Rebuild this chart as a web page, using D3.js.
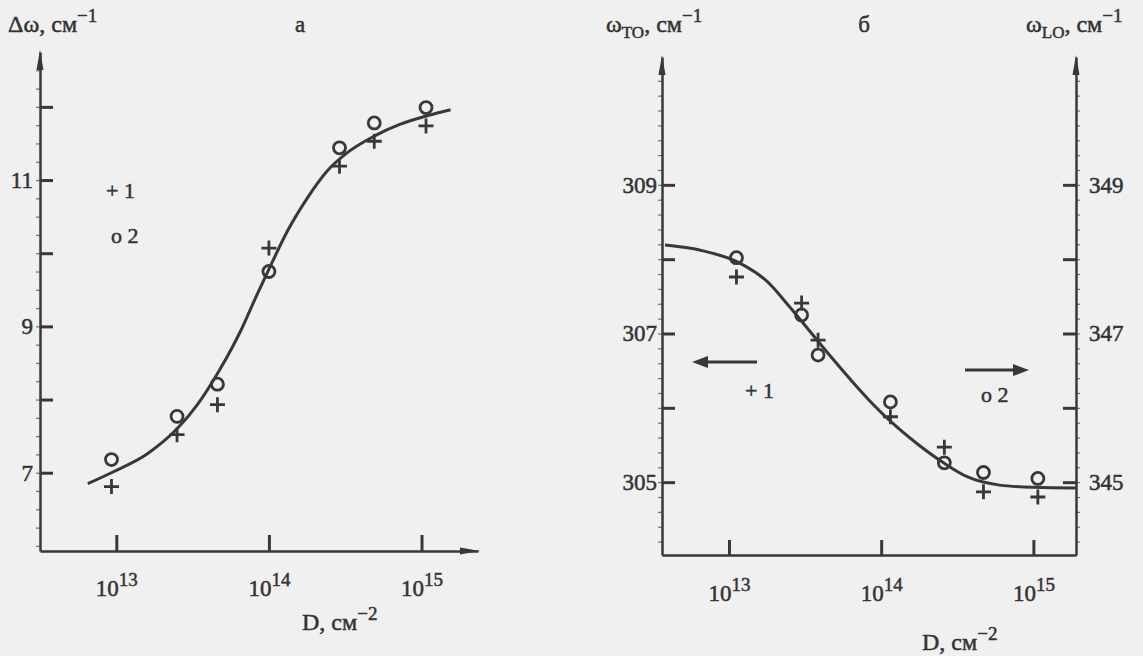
<!DOCTYPE html>
<html>
<head>
<meta charset="utf-8">
<script src="https://cdnjs.cloudflare.com/ajax/libs/d3/7.8.5/d3.min.js"></script>
<style>
body { margin: 0; background: #f0f0f0; }
svg { display: block; }
</style>
</head>
<body>
<svg id="fig" width="1143" height="656" font-family="'Liberation Serif', 'DejaVu Serif', serif"></svg>
<script>
// ---- panel а : shift vs dose ----
const doseA = [9.3e12, 2.5e13, 4.6e13, 1.0e14, 2.9e14, 4.9e14, 1.07e15]
const shiftA1 = [6.81, 7.52, 7.93, 10.07, 11.19, 11.53, 11.74]   // +  1
const shiftA2 = [7.18, 7.77, 8.21, 9.75, 11.44, 11.78, 11.99]    // o  2
const fitDoseA = [6.5e12, 9.5e12, 1.6e13, 2.5e13, 3.4e13, 4.8e13, 6.5e13, 8.3e13, 1.02e14, 1.32e14, 1.78e14, 2.4e14, 3.2e14, 4.9e14, 7.2e14, 1.1e15, 1.55e15]
const fitShiftA = [6.85, 7.01, 7.26, 7.60, 7.93, 8.42, 8.93, 9.42, 9.82, 10.30, 10.75, 11.12, 11.36, 11.60, 11.76, 11.88, 11.96]
const ticksA = [7, 8, 9, 10, 11, 12]
const labelsA = [7, 9, 11]

// ---- panel б : TO (left axis) and LO (right axis) ----
const doseB = [1.12e13, 3.0e13, 3.85e13, 1.15e14, 2.6e14, 4.7e14, 1.07e15]
const wTO = [307.76, 307.41, 306.91, 305.88, 305.47, 304.87, 304.80]   // + 1
const wLO = [348.02, 347.25, 346.71, 346.08, 345.26, 345.13, 345.05]   // o 2
const fitDoseB = [3.8e12, 6.5e12, 1.17e13, 1.78e13, 2.5e13, 3.4e13, 4.8e13, 8.1e13, 1.15e14, 1.74e14, 2.57e14, 3.7e14, 6.0e14, 1.0e15, 1.9e15]
const fitTO = [308.19, 308.12, 307.95, 307.70, 307.36, 307.03, 306.66, 306.13, 305.82, 305.51, 305.26, 305.07, 304.96, 304.93, 304.92]
const ticksTO = [305, 306, 307, 308, 309]
const labelsTO = [305, 307, 309]
const ticksLO = [345, 346, 347, 348, 349]
const labelsLO = [345, 347, 349]
const doseTicks = [1e13, 1e14, 1e15]

const ink = "#383838"
const serif = "'Liberation Serif', 'DejaVu Serif', serif"
const svg = d3.select("#fig")

function styleAxis(g, w) {
  g.attr("font-size", null).attr("font-family", null)
  g.select(".domain").attr("stroke", ink).attr("stroke-width", w || 2.5)
  g.selectAll(".tick line").attr("stroke", ink).attr("stroke-width", 3)
  g.selectAll(".tick text").attr("fill", "#333").attr("font-size", 23)
    .attr("font-family", serif).attr("stroke", "#333").attr("stroke-width", 0.5)
}

function powerLabels(g, y) {
  g.selectAll(".tick text").attr("y", y).attr("dy", null).each(function(d) {
    let t = d3.select(this)
    t.append("tspan").text("10")
    t.append("tspan").attr("dy", -10).attr("font-size", 19).text(Math.round(Math.log10(d)))
  })
}

function minor(g, scale, lo, hi, step, side) {
  let vals = d3.range(lo, hi + 1e-9, step)
  let ax = side == "left" ? d3.axisLeft(scale) : d3.axisRight(scale)
  g.call(ax.tickValues(vals).tickSize(4).tickFormat(""))
  g.select(".domain").remove()
  g.selectAll(".tick line").attr("stroke", ink).attr("stroke-width", 1.2).attr("opacity", 0.7)
}

function arrowUp(x, y) {
  svg.append("path").attr("d", `M${x - 3.5},${y + 18}L${x},${y - 2}L${x + 3.5},${y + 18}Z`).attr("fill", ink)
}

function markers(g, xs, ys, x, y, kind) {
  if (kind == "plus") {
    g.selectAll(null).data(xs).enter().append("path")
      .attr("transform", (d, i) => "translate(" + x(d) + "," + y(ys[i]) + ")")
      .attr("d", "M-7.5,0H7.5M0,-7.5V7.5")
      .attr("stroke", ink).attr("stroke-width", 2.8).attr("fill", "none")
  } else {
    g.selectAll(null).data(xs).enter().append("circle")
      .attr("cx", d => x(d))
      .attr("cy", (d, i) => y(ys[i]))
      .attr("r", 6)
      .attr("stroke", ink).attr("stroke-width", 2.8).attr("fill", "none")
  }
}

function label(x, y, size, str) {
  return svg.append("text").attr("x", x).attr("y", y).attr("font-size", size)
    .attr("font-family", serif).attr("fill", "#333").attr("stroke", "#333").attr("stroke-width", 0.5)
    .text(str)
}

function supText(x, y, parts) {
  let t = label(x, y, 24, null)
  parts.forEach(p => {
    let s = t.append("tspan").text(p[0])
    if (p[1]) s.attr("dy", p[1])
    if (p[2]) s.attr("font-size", p[2])
  })
  return t
}

// ================= panel а =================
let xA = d3.scaleLog().domain([Math.pow(10, 12.5), Math.pow(10, 15.37)]).range([40, 478])
let yA = d3.scaleLinear().domain([5.93, 12.75]).range([551, 52])

let gA = svg.append("g")
gA.append("g").attr("transform", "translate(40,0)").call(g => minor(g, yA, 6, 12.5, 0.25, "left"))
gA.append("g").attr("transform", "translate(40,0)")
  .call(d3.axisLeft(yA).tickValues(ticksA).tickSizeInner(-13).tickSizeOuter(0).tickPadding(7)
    .tickFormat(d => labelsA.includes(d) ? d : ""))
  .call(g => styleAxis(g))
gA.append("g").attr("transform", "translate(0,551)")
  .call(d3.axisBottom(xA).tickValues(doseTicks).tickSizeInner(-16).tickSizeOuter(0).tickFormat(""))
  .call(g => styleAxis(g))
  .call(g => powerLabels(g, 45))
arrowUp(40, 52)
svg.append("path").attr("d", "M460,547.5L480,551L460,554.5Z").attr("fill", ink)

gA.append("path").datum(fitDoseA)
  .attr("d", d3.line().x(d => xA(d)).y((d, i) => yA(fitShiftA[i])).curve(d3.curveMonotoneX))
  .attr("fill", "none").attr("stroke", ink).attr("stroke-width", 3)
markers(gA, doseA, shiftA2, xA, yA, "circle")
markers(gA, doseA, shiftA1, xA, yA, "plus")

supText(8, 32, [["Δω, см"], ["−1", -10, 19]])
label(300, 32, 23, "а").attr("text-anchor", "middle")
label(106, 198, 22, "+ 1")
label(111, 243, 22, "о 2")
supText(302, 630, [["D, см"], ["−2", -10, 19]])

// ================= panel б =================
let xB = d3.scaleLog().domain([Math.pow(10, 12.56), Math.pow(10, 15.28)]).range([662, 1076])
let yTO = d3.scaleLinear().domain([304.02, 310.72]).range([555, 57])
let yLO = d3.scaleLinear().domain([344.02, 350.72]).range([555, 57])

let gB = svg.append("g")
gB.append("g").attr("transform", "translate(662,0)").call(g => minor(g, yTO, 304.2, 310.4, 0.2, "left"))
gB.append("g").attr("transform", "translate(1076,0)").call(g => minor(g, yLO, 344.2, 350.4, 0.2, "right"))
gB.append("g").attr("transform", "translate(662,0)")
  .call(d3.axisLeft(yTO).tickValues(ticksTO).tickSizeInner(-13).tickSizeOuter(0).tickPadding(5)
    .tickFormat(d => labelsTO.includes(d) ? d : ""))
  .call(g => styleAxis(g))
gB.append("g").attr("transform", "translate(1076,0)")
  .call(d3.axisRight(yLO).tickValues(ticksLO).tickSizeInner(-13).tickSizeOuter(0).tickPadding(13)
    .tickFormat(d => labelsLO.includes(d) ? d : ""))
  .call(g => styleAxis(g))
gB.append("g").attr("transform", "translate(0,555)")
  .call(d3.axisBottom(xB).tickValues(doseTicks).tickSizeInner(-15).tickSizeOuter(0).tickFormat(""))
  .call(g => styleAxis(g))
  .call(g => powerLabels(g, 46))
arrowUp(662, 57)
arrowUp(1076, 57)

gB.append("path").datum(fitDoseB)
  .attr("d", d3.line().x(d => xB(d)).y((d, i) => yTO(fitTO[i])).curve(d3.curveMonotoneX))
  .attr("fill", "none").attr("stroke", ink).attr("stroke-width", 3)
markers(gB, doseB, wLO, xB, yLO, "circle")
markers(gB, doseB, wTO, xB, yTO, "plus")

// direction arrows
svg.append("line").attr("x1", 757).attr("y1", 362).attr("x2", 705).attr("y2", 362).attr("stroke", ink).attr("stroke-width", 3)
svg.append("path").attr("d", "M692,362L708,356L708,368Z").attr("fill", ink)
svg.append("line").attr("x1", 965).attr("y1", 370).attr("x2", 1015).attr("y2", 370).attr("stroke", ink).attr("stroke-width", 3)
svg.append("path").attr("d", "M1029,370L1013,364L1013,376Z").attr("fill", ink)

label(745, 398, 22, "+ 1")
label(981, 402, 22, "о 2")

supText(606, 32, [["ω"], ["TO", 6, 17], [", см", -6], ["−1", -10, 19]])
label(864, 32, 23, "б").attr("text-anchor", "middle")
supText(1026, 32, [["ω"], ["LO", 6, 17], [", см", -6], ["−1", -10, 19]])
supText(922, 650, [["D, см"], ["−2", -10, 19]])
</script>
</body>
</html>
